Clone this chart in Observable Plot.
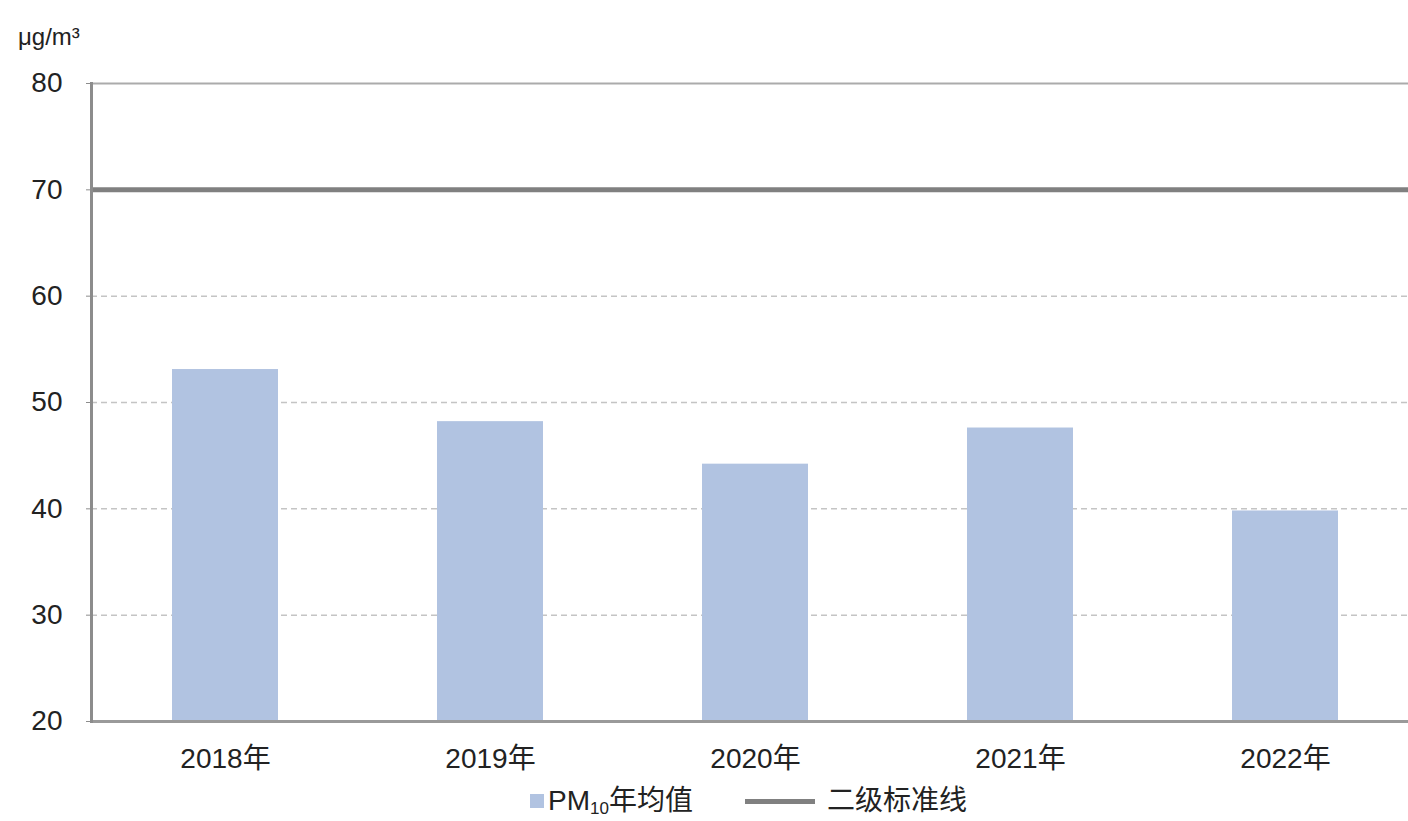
<!DOCTYPE html>
<html>
<head>
<meta charset="utf-8">
<script src="https://cdn.jsdelivr.net/npm/d3@7"></script>
<script src="https://cdn.jsdelivr.net/npm/@observablehq/plot@0.6"></script>
<style>
  html, body { margin: 0; padding: 0; background: #fff; overflow: hidden; }
  body { width: 1408px; height: 821px; position: relative; font-family: "Liberation Sans", Arial, "Noto Sans CJK SC", sans-serif; color: #222; }
  #chart { position: absolute; left: 0; top: 0; }
  #unit { position: absolute; left: 18px; top: 23px; font-size: 24px; z-index: 2; }
  #legend { position: absolute; left: 0; top: 785px; width: 1408px; height: 32px; font-size: 28px; z-index: 2; }
  .lg { position: absolute; top: 0; display: flex; align-items: center; height: 32px; line-height: 32px; white-space: nowrap; }
  .sq { width: 14px; height: 14px; background: #b1c3e1; margin-right: 4px; }
  .ln { width: 70px; height: 5px; background: #808080; margin-right: 12px; }
  sub { font-size: 17px; vertical-align: -4px; line-height: 0; }
</style>
</head>
<body>
<div id="chart"></div>
<div id="unit">μg/m³</div>
<div id="legend">
  <div class="lg" style="left:530px"><div class="sq"></div><span>PM<sub>10</sub>年均值</span></div>
  <div class="lg" style="left:745px"><div class="ln"></div><span>二级标准线</span></div>
</div>
<script>
const years = ["2018年", "2019年", "2020年", "2021年", "2022年"];
const pm10 = [53.1, 48.2, 44.2, 47.6, 39.8];
const standard = 70;
const yTicks = [20, 30, 40, 50, 60, 70, 80];
const gridValues = [30, 40, 50, 60];

const data = years.map((y, i) => ({year: y, value: pm10[i]}));

const chart = Plot.plot({
  width: 1408,
  height: 785,
  marginLeft: 91,
  marginRight: 0,
  marginTop: 83,
  marginBottom: 64,
  style: {fontFamily: '"Liberation Sans", Arial, "Noto Sans CJK SC", sans-serif', color: "#222", background: "#fff"},
  x: {type: "band", domain: years, range: [91, 1419.5], paddingInner: 0.6, paddingOuter: 0.3, label: null},
  y: {domain: [20, 80], ticks: yTicks, label: null},
  marks: [
    Plot.ruleY(gridValues, {stroke: "#c4c4c4", strokeWidth: 1.5, strokeDasharray: "6,4"}),
    Plot.ruleY([80], {stroke: "#ababab", strokeWidth: 2}),
    Plot.barY(data, {x: "year", y1: 20, y2: "value", fill: "#b1c3e1"}),
    Plot.ruleY([standard], {stroke: "#808080", strokeWidth: 5}),
    Plot.ruleY([20], {stroke: "#9a9a9a", strokeWidth: 3}),
    Plot.frame({anchor: "left", stroke: "#8c8c8c", strokeWidth: 3}),
    Plot.axisY({ticks: yTicks, tickSize: 5, tickPadding: 24, stroke: "#8c8c8c", fontSize: 28, fill: "#222", tickFormat: d => String(d)}),
    Plot.axisX({tickSize: 0, tickPadding: 27, fontSize: 28, fill: "#222"})
  ]
});
document.getElementById("chart").appendChild(chart);
</script>
</body>
</html>
